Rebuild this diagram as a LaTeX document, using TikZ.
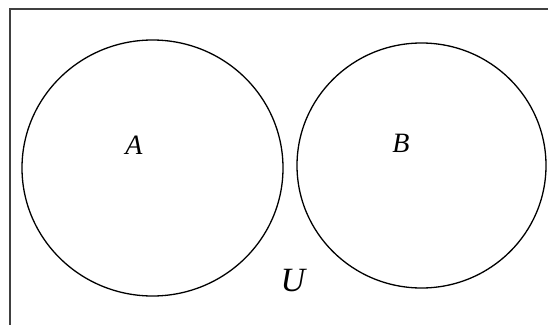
\documentclass[tikz,border=0pt]{standalone}
\usepackage{fontspec}
\setmainfont{Liberation Serif}
\begin{document}
\begin{tikzpicture}[x=1pt,y=-1pt,
  setcircle/.style={draw=black,line width=1.3pt},
  setlabel/.style={font=\fontsize{28}{30}\selectfont\itshape,inner sep=0pt}]
\useasboundingbox (0,0) rectangle (548,324);
\fill[white] (0,0) rectangle (548,324);
\begin{scope}
\clip (0,0) rectangle (548,324);
\draw[draw=black!75,line width=2pt] (10,600) -- (10,8.5) -- (600,8.5);
\end{scope}
\draw[setcircle] (152.5,168) ellipse [x radius=130.5, y radius=128];
\draw[setcircle] (421.5,165.5) ellipse [x radius=124.5, y radius=122.5];
\node[setlabel] (A) at (134,145) {A};
\node[setlabel] (B) at (401,143) {B};
\node[setlabel,font=\fontsize{34}{36}\selectfont\itshape] (U) at (293,281) {U};
\end{tikzpicture}
\end{document}
